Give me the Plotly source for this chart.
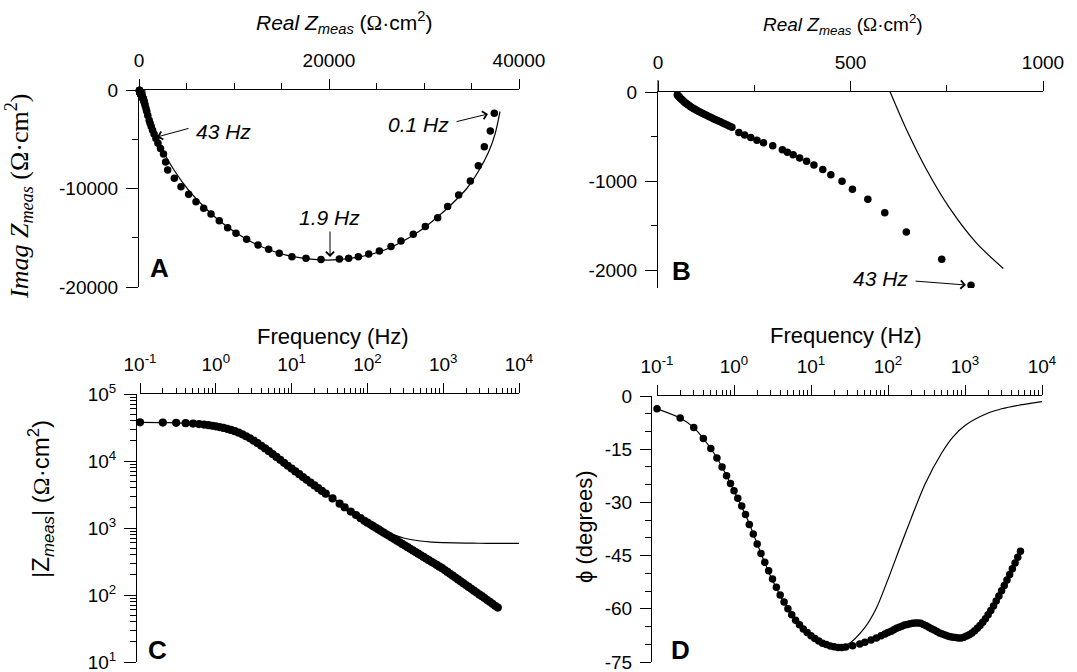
import plotly.graph_objects as go

W, H = 1077, 672
FONT = "Liberation Sans, Arial, sans-serif"
SERIF = "Liberation Serif, Times New Roman, serif"

# ---------------- Nyquist data (panels A and B), high -> low frequency ----------------
nyq_real = [50, 52, 54, 56, 58, 61, 64, 67, 70, 73, 76, 80, 84, 88, 92, 96, 100, 105, 110, 115,
            120, 126, 132, 138, 144, 150, 156, 162, 168, 174, 180, 186, 192,
            210, 225, 241, 257, 274, 298, 323, 336, 351, 368, 386, 405, 428, 449, 478, 505, 545,
            589, 645, 737, 813,
            926, 1069, 1168, 1286, 1428, 1586, 1780, 1998, 2265, 2580, 2800,
            3020, 3720, 4420, 5230, 6000, 6810, 7580, 8450, 9330, 10210, 11330, 12530, 13650,
            14770, 16100, 17580, 19160, 21090, 22070, 23090, 24180, 25300, 26530, 27580, 28870,
            30140, 31440, 32490, 33650, 34880, 35720, 36350, 36980, 37400]
nyq_imag = [-30, -40, -50, -60, -70, -82, -94, -106, -117, -128, -138, -150, -162, -173, -184,
            -194, -204, -216, -228, -239, -250, -262, -275, -287, -299, -311, -323, -335, -347,
            -359, -371, -384, -397,
            -455, -482, -510, -542, -570, -603, -648, -677, -704, -740, -776, -820, -870, -930,
            -1001, -1091, -1205, -1356, -1572, -1877, -2169,
            -2600, -3069, -3374, -3714, -4077, -4477, -4918, -5400, -5930, -6510, -7300,
            -8120, -8960, -9810, -10590, -11340, -12010, -12590, -13270, -13980, -14550, -15160,
            -15730, -16170, -16580, -16920, -17080, -17220, -17150, -17080, -16920, -16650,
            -16340, -15900, -15330, -14650, -13870, -12960, -11840, -10660, -9240, -7680,
            -5750, -4160, -2370]

# fitted model curve in the complex plane
fit_real = [603, 646, 698, 758, 828, 897, 1150, 1550, 2050, 2750, 3600, 4600, 5700, 7000,
            8500, 10200, 12100, 14200, 16400, 18700, 21000, 23200, 25400, 27500, 29500,
            31300, 32900, 34500, 35700, 36800, 37500, 38000]
fit_imag = [0, -427, -876, -1307, -1700, -1981, -2900, -4000, -5200, -6600, -8000, -9400,
            -10700, -12000, -13300, -14500, -15550, -16400, -16950, -17230, -17230, -16950,
            -16400, -15500, -14350, -13000, -11600, -10000, -8300, -6300, -4400, -2200]
fit_points_in_B = 6

# ---------------- Bode data (panels C and D) ----------------
freq_hz = [0.1, 0.2, 0.3, 0.4, 0.5, 0.6, 0.7, 0.8, 0.9, 1.0,
           1.12, 1.26, 1.41, 1.58, 1.78, 2.0, 2.24, 2.51, 2.82, 3.16, 3.55, 3.98, 4.47, 5.01,
           5.62, 6.31, 7.08, 7.94, 8.91, 10.0,
           11.2, 12.6, 14.1, 15.8, 17.8, 20.0, 22.4, 25.1, 28.2, 34.7, 43.0, 50.1, 60.3, 70.8,
           81.3, 91.2, 100,
           110, 119, 129, 140, 151, 164, 178, 193, 209, 226, 245, 266, 288, 313, 339, 367, 398,
           432, 468, 507, 550, 596, 646, 700, 759, 822, 891, 966,
           1047, 1135, 1230, 1334, 1445, 1567, 1698, 1841, 1995, 2163, 2344, 2541, 2754, 2985,
           3236, 3508, 3802, 4121, 4467, 4842, 5248]
zmod = [37800, 37500, 37100, 36700, 36200, 35600, 35000, 34300, 33600, 32900,
        32100, 31200, 30200, 29100, 27900, 26500, 25000, 23400, 21800, 20100, 18500, 16900,
        15400, 14000, 12700, 11500, 10400, 9400, 8500, 7700,
        7000, 6350, 5760, 5230, 4750, 4320, 3930, 3570, 3250, 2760, 2310, 2040, 1760, 1560,
        1400, 1280, 1200,
        1125, 1064, 1006, 952, 901, 853, 806, 763, 722, 683, 646, 611, 578, 546, 517, 489, 462,
        438, 414, 392, 370, 350, 331, 313, 297, 281, 265, 251,
        236, 221, 207, 194, 182, 171, 160, 150, 141, 132, 124, 116, 109, 102, 96, 90, 84, 79,
        74, 69, 65]
phase_deg = [-3.6, -6.2, -8.9, -12.0, -14.8, -17.5, -20.0, -22.5, -24.7, -26.7,
             -28.8, -31.0, -33.4, -36.2, -38.9, -41.7, -44.4, -46.9, -49.3, -51.6, -53.9, -56.1,
             -58.1, -60.0, -61.7, -63.2, -64.5, -65.7, -66.7, -67.6,
             -68.4, -69.1, -69.7, -70.1, -70.5, -70.7, -70.9, -70.9, -70.8, -70.4, -69.9, -69.4,
             -68.8, -68.2, -67.6, -67.1, -66.7,
             -66.3, -65.9, -65.5, -65.2, -64.9, -64.6, -64.4, -64.2, -64.1, -64.0, -64.0, -64.1,
             -64.4, -64.8, -65.2, -65.6, -66.0, -66.4, -66.8, -67.1, -67.4, -67.7, -67.9, -68.0,
             -68.1, -68.2, -68.2, -68.0,
             -67.7, -67.3, -66.8, -66.2, -65.5, -64.7, -63.8, -62.8, -61.7, -60.5, -59.2, -57.8,
             -56.4, -54.9, -53.4, -51.9, -50.3, -48.7, -47.1, -45.5, -43.8]

fit_freq_hz = [0.1, 0.2, 0.3, 0.5, 0.7, 1, 1.5, 2, 3, 5, 7, 10, 15, 20, 30, 50, 70, 100, 150,
               200, 300, 500, 700, 1000, 2000, 3000, 5000, 7000, 10000]
fit_zmod = [37800, 37500, 37100, 36200, 35000, 32900, 29600, 26500, 20900, 14000, 10500, 7700,
            5450, 4350, 3150, 2080, 1600, 1250, 960, 830, 710, 640, 616, 604, 595, 592, 590,
            589, 589]
fit_phase_deg = [-3.6, -6.2, -8.9, -14.8, -20.0, -26.7, -34.8, -41.7, -50.9, -60.0, -64.3,
                 -67.6, -69.8, -70.6, -70.0, -65.3, -60.0, -51.7, -41.5, -34.5, -25.0, -16.0,
                 -11.5, -8.3, -4.8, -3.6, -2.6, -2.1, -1.6]

# ---------------- tick definitions ----------------
a_x_ticks = [0, 20000, 40000]
a_x_minor = [5000, 10000, 15000, 25000, 30000, 35000]
a_y_ticks = [0, -10000, -20000]
a_y_minor = [-5000, -15000]
b_x_ticks = [0, 500, 1000]
b_x_minor = [250, 750]
b_y_ticks = [0, -1000, -2000]
b_y_minor = [-500, -1500]
f_ticks = [0.1, 1, 10, 100, 1000, 10000]
f_labels = ["10<sup>-1</sup>", "10<sup>0</sup>", "10<sup>1</sup>", "10<sup>2</sup>",
            "10<sup>3</sup>", "10<sup>4</sup>"]
z_ticks = [10, 100, 1000, 10000, 100000]
z_labels = ["10<sup>1</sup>", "10<sup>2</sup>", "10<sup>3</sup>", "10<sup>4</sup>", "10<sup>5</sup>"]
p_ticks = [0, -15, -30, -45, -60, -75]
p_minor = [-5, -10, -20, -25, -35, -40, -50, -55, -65, -70]


def log_minor(lo_exp, hi_exp):
    return [m * 10.0 ** e for e in range(lo_exp, hi_exp) for m in range(2, 10)]


def labels(v):
    return [str(t) for t in v]


def px(x):
    return x / W


def py(y):
    return 1 - y / H


TICKFONT = dict(family=FONT, size=19, color="black")


def axis(**kw):
    base = dict(showline=True, linecolor="black", linewidth=1, ticks="outside",
                tickcolor="black", tickwidth=1, showgrid=False, zeroline=False,
                tickfont=TICKFONT, fixedrange=True, ticklabelstandoff=4, automargin=False,
                ticklabeloverflow="allow")
    base.update(kw)
    return base


def minor(vals, ln=6):
    return dict(tickvals=vals, ticks="outside", ticklen=ln, tickcolor="black", tickwidth=1,
                showgrid=False)


fig = go.Figure()

line_style = dict(color="black", width=1.2, shape="spline", smoothing=0.8)
mk = dict(color="black", size=7.5, line=dict(width=0))
mk_c = dict(color="black", size=8.2, line=dict(width=0))

# Panel A
fig.add_trace(go.Scatter(x=fit_real, y=fit_imag, mode="lines", line=line_style,
                         xaxis="x", yaxis="y", hoverinfo="skip"))
fig.add_trace(go.Scatter(x=nyq_real, y=nyq_imag, mode="markers", marker=mk, cliponaxis=False,
                         xaxis="x", yaxis="y"))
# Panel B
fig.add_trace(go.Scatter(x=fit_real[:fit_points_in_B], y=fit_imag[:fit_points_in_B],
                         mode="lines", line=line_style, xaxis="x2", yaxis="y2",
                         hoverinfo="skip"))
fig.add_trace(go.Scatter(x=nyq_real, y=nyq_imag, mode="markers", marker=mk,
                         xaxis="x2", yaxis="y2"))
# Panel C
fig.add_trace(go.Scatter(x=fit_freq_hz, y=fit_zmod, mode="lines", line=line_style,
                         xaxis="x3", yaxis="y3", hoverinfo="skip"))
fig.add_trace(go.Scatter(x=freq_hz, y=zmod, mode="markers", marker=mk_c, cliponaxis=False,
                         xaxis="x3", yaxis="y3"))
# Panel D
fig.add_trace(go.Scatter(x=fit_freq_hz, y=fit_phase_deg, mode="lines", line=line_style,
                         xaxis="x4", yaxis="y4", hoverinfo="skip"))
fig.add_trace(go.Scatter(x=freq_hz, y=phase_deg, mode="markers", marker=mk, cliponaxis=False,
                         xaxis="x4", yaxis="y4"))

fig.update_layout(
    width=W, height=H, margin=dict(l=0, r=0, t=0, b=0, autoexpand=False),
    paper_bgcolor="white", plot_bgcolor="white", showlegend=False,
    font=dict(family=FONT, color="black"),
    xaxis=axis(domain=[px(139), px(519)], range=[0, 40000], side="top", anchor="y",
               tickvals=a_x_ticks, ticktext=labels(a_x_ticks), ticklen=10, minor=minor(a_x_minor)),
    yaxis=axis(domain=[py(287), py(90)], range=[-20000, 0], anchor="x",
               tickvals=a_y_ticks, ticktext=labels(a_y_ticks), ticklen=12, minor=minor(a_y_minor)),
    xaxis2=axis(domain=[px(658), px(1043)], range=[0, 1000], side="top", anchor="y2",
                tickvals=b_x_ticks, ticktext=labels(b_x_ticks), ticklen=10, minor=minor(b_x_minor)),
    yaxis2=axis(domain=[py(288), py(92)], range=[-2200, 0], anchor="x2",
                tickvals=b_y_ticks, ticktext=labels(b_y_ticks), ticklen=12, minor=minor(b_y_minor)),
    xaxis3=axis(type="log", domain=[px(140), px(519)], range=[-1, 4], side="top", anchor="y3",
                tickvals=f_ticks, ticktext=f_labels, ticklen=10, minor=minor(log_minor(-1, 4), 5)),
    yaxis3=axis(type="log", domain=[py(662), py(394)], range=[1, 5], anchor="free",
                position=px(136), tickvals=z_ticks, ticktext=z_labels, ticklen=12,
                minor=minor(log_minor(1, 5), 6)),
    xaxis4=axis(type="log", domain=[px(657), px(1042)], range=[-1, 4], side="top", anchor="y4",
                tickvals=f_ticks, ticktext=f_labels, ticklen=10, minor=minor(log_minor(-1, 4), 5)),
    yaxis4=axis(domain=[py(662), py(396)], range=[-75, 0], anchor="free", position=px(651),
                tickvals=p_ticks, ticktext=labels(p_ticks), ticklen=11, minor=minor(p_minor, 6)),
    shapes=[dict(type="line", xref="paper", yref="paper", x0=px(658), x1=px(658),
                 y0=py(92), y1=py(80), line=dict(color="black", width=1))],
)

ann = []


def text(x, y, s, size=21, family=FONT, angle=0, **kw):
    ann.append(dict(x=px(x), y=py(y), xref="paper", yref="paper", text=s, showarrow=False,
                    font=dict(family=family, size=size, color="black"), textangle=angle,
                    xanchor="center", yanchor="middle", **kw))


def arrow(tip_x, tip_y, tail_x, tail_y):
    ann.append(dict(x=px(tip_x), y=py(tip_y), xref="paper", yref="paper", text="",
                    showarrow=True, axref="pixel", ayref="pixel",
                    ax=tail_x - tip_x, ay=tail_y - tip_y, arrowhead=4, arrowsize=1.6,
                    arrowwidth=1, arrowcolor="black", standoff=0, startstandoff=0))


omega = '<span style="font-family:Liberation Serif">Ω</span>'
# axis titles
text(344, 23, "<i>Real Z<sub>meas</sub></i> (" + omega + "·cm<sup>2</sup>)", size=21)
text(843, 25, "<i>Real Z<sub>meas</sub></i> (" + omega + "·cm<sup>2</sup>)", size=19)
text(19, 197, "<i>Imag Z<sub>meas</sub></i> (Ω·cm<sup>2</sup>)", size=26, family=SERIF, angle=-90)
text(333, 336, "Frequency (Hz)", size=22)
text(846, 335, "Frequency (Hz)", size=22)
text(41, 499, "|Z<sub><i>meas</i></sub>| (" + omega + "·cm<sup>2</sup>)", size=24, angle=-90)
text(584, 527, "ϕ (degrees)", size=22, angle=-90)

# annotations in panels
text(223, 132, "<i>43 Hz</i>")
arrow(157, 137, 190, 128)
text(418, 124, "<i>0.1 Hz</i>")
arrow(488, 114, 455, 122)
text(329, 217, "<i>1.9 Hz</i>")
arrow(330, 257, 330, 230)
text(880, 278, "<i>43 Hz</i>")
arrow(966, 285, 914, 281)

# panel letters
for lx, ly, s in [(159, 268, "A"), (681, 271, "B"), (157, 650, "C"), (680, 650, "D")]:
    text(lx, ly, "<b>" + s + "</b>", size=26)

fig.update_layout(annotations=ann)

fig.write_html("out.html", include_plotlyjs=True, full_html=True,
               config={"displayModeBar": False, "responsive": False},
               post_script="document.body.style.margin='0';document.body.style.overflow='hidden';")
